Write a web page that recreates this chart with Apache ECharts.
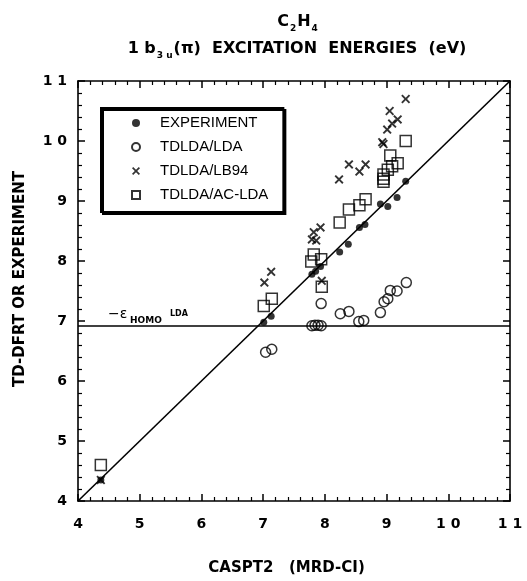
<!DOCTYPE html>
<html>
<head>
<meta charset="utf-8">
<script src="https://cdn.jsdelivr.net/npm/echarts@6/dist/echarts.min.js"></script>
<style>
  html, body { margin: 0; padding: 0; background: #fff; }
  #chart { width: 527px; height: 581px; }
</style>
</head>
<body>
<div id="chart"></div>
<script>
// C2H4 1b3u(pi) excitation energies: CASPT2 (MRD-CI) reference on x, other methods on y (eV)
const experiment = [
  [4.37, 4.35], [7.01, 6.98], [7.13, 7.08], [7.79, 7.78], [7.85, 7.83], [7.93, 7.91],
  [8.24, 8.15], [8.38, 8.28], [8.56, 8.56], [8.65, 8.61], [8.90, 8.95], [9.02, 8.91],
  [9.17, 9.06], [9.31, 9.33]
];
const tdldaLda = [
  [7.04, 6.48], [7.14, 6.53], [7.79, 6.92], [7.84, 6.93], [7.89, 6.93], [7.94, 6.92],
  [7.94, 7.29], [8.25, 7.12], [8.39, 7.16], [8.55, 6.99], [8.63, 7.01], [8.90, 7.14],
  [8.96, 7.32], [9.02, 7.37], [9.06, 7.51], [9.17, 7.50], [9.32, 7.64]
];
const tdldaLb94 = [
  [4.37, 4.35], [7.02, 7.64], [7.13, 7.82], [7.79, 8.36], [7.86, 8.34], [7.82, 8.48],
  [7.93, 8.56], [7.95, 7.67], [8.23, 9.36], [8.39, 9.61], [8.56, 9.49], [8.66, 9.61],
  [8.93, 9.98], [8.95, 9.95], [9.01, 10.19], [9.09, 10.29], [9.18, 10.36], [9.05, 10.50],
  [9.31, 10.70]
];
const tdldaAcLda = [
  [4.37, 4.60], [7.01, 7.25], [7.14, 7.37], [7.78, 7.99], [7.82, 8.11], [7.94, 8.03],
  [7.95, 7.57], [8.24, 8.64], [8.39, 8.86], [8.56, 8.93], [8.66, 9.03], [8.95, 9.32],
  [8.95, 9.37], [8.95, 9.44], [9.02, 9.52], [9.09, 9.58], [9.18, 9.63], [9.06, 9.76],
  [9.31, 10.00]
];
const seriesNames = ['EXPERIMENT', 'TDLDA/LDA', 'TDLDA/LB94', 'TDLDA/AC-LDA'];
const axisMin = 4;
const axisMax = 11;
const tickLabels = ['4', '5', '6', '7', '8', '9', '1 0', '1 1'];
const homoLda = 6.92;          // -eps_HOMO (LDA) reference level
const diagonal = [[4, 4], [11, 11]];

const FONT = 'DejaVu Sans';
const BLACK = '#000';
const crossPath = 'path://M0,1.5L1.5,0L5,3.5L8.5,0L10,1.5L6.5,5L10,8.5L8.5,10L5,6.5L1.5,10L0,8.5L3.5,5Z';
const hollow = { color: 'rgba(0,0,0,0)', borderColor: BLACK, borderWidth: 1.5 };

const chart = echarts.init(document.getElementById('chart'), null, { renderer: 'canvas' });

function baseAxis(pos, showLabel) {
  return {
    type: 'value', position: pos, min: axisMin, max: axisMax, interval: 1,
    axisLine: { show: true, onZero: false, lineStyle: { color: BLACK, width: 1.6 } },
    axisTick: { show: true, inside: true, length: 7, lineStyle: { color: BLACK, width: 1.5 } },
    minorTick: { show: true, splitNumber: 5, length: 4, lineStyle: { color: BLACK, width: 1.2 } },
    splitLine: { show: false },
    axisLabel: {
      show: showLabel, color: BLACK, fontFamily: FONT, fontWeight: 'bold', fontSize: 14,
      formatter: v => tickLabels[Math.round(v - axisMin)]
    }
  };
}

const nameStyle = { color: BLACK, fontFamily: FONT, fontWeight: 'bold', fontSize: 15 };

const xBottom = Object.assign(baseAxis('bottom', true), {
  name: 'CASPT2   (MRD-CI)', nameLocation: 'middle', nameGap: 60,
  nameTextStyle: Object.assign({ padding: [0, 15, 0, 0] }, nameStyle)
});
xBottom.axisLabel.margin = 16;
const yLeft = Object.assign(baseAxis('left', true), {
  name: 'TD-DFRT OR EXPERIMENT', nameLocation: 'middle', nameGap: 50,
  nameTextStyle: Object.assign({ padding: [0, 0, 0, 24] }, nameStyle)
});
yLeft.axisLabel.margin = 11;

const titleRich = {
  n: { fontFamily: FONT, fontWeight: 'bold', fontSize: 16, color: BLACK, lineHeight: 22, verticalAlign: 'middle' },
  s: { fontFamily: FONT, fontWeight: 'bold', fontSize: 9, color: BLACK, lineHeight: 10, verticalAlign: 'bottom', padding: [0, 1, 0, 1] }
};

const option = {
  animation: false,
  backgroundColor: '#fff',
  title: [
    {
      text: '{n|C}{s|2}{n|H}{s|4}', left: 293, top: 6, textAlign: 'center',
      textStyle: { rich: titleRich }
    },
    {
      text: '{n|1 b}{s|3 u}{n|(π)  EXCITATION  ENERGIES  (eV)}', left: 292, top: 33, textAlign: 'center',
      textStyle: { rich: titleRich }
    }
  ],
  legend: {
    orient: 'vertical', left: 101, top: 108,
    data: seriesNames,
    itemWidth: 8, itemHeight: 8, itemGap: 8,
    padding: [7, 15, 9, 30],
    backgroundColor: '#fff', borderColor: BLACK, borderWidth: 2, borderRadius: 0,
    shadowColor: BLACK, shadowOffsetX: 2, shadowOffsetY: 2, shadowBlur: 0,
    textStyle: { color: BLACK, fontFamily: 'Liberation Sans', fontSize: 15, lineHeight: 16, padding: [0, 0, 0, 15] },
    selectedMode: false
  },
  grid: { left: 78, right: 17, top: 81, bottom: 68 },
  xAxis: [xBottom, baseAxis('top', false)],
  yAxis: [yLeft, baseAxis('right', false)],
  series: [
    {
      name: 'y = x', type: 'line', data: diagonal, symbol: 'none', silent: true,
      lineStyle: { color: BLACK, width: 1.6 }, z: 1,
      markLine: {
        silent: true, symbol: 'none', label: { show: false },
        lineStyle: { color: BLACK, width: 1.5, type: 'solid' },
        data: [{ yAxis: homoLda }]
      }
    },
    {
      name: seriesNames[0], type: 'scatter', data: experiment, symbol: 'circle', symbolSize: 7,
      itemStyle: { color: BLACK }, z: 3
    },
    {
      name: seriesNames[1], type: 'scatter', data: tdldaLda, symbol: 'circle', symbolSize: 10,
      itemStyle: hollow, z: 3
    },
    {
      name: seriesNames[2], type: 'scatter', data: tdldaLb94, symbol: crossPath, symbolSize: 9,
      itemStyle: { color: BLACK }, z: 3
    },
    {
      name: seriesNames[3], type: 'scatter', data: tdldaAcLda, symbol: 'rect', symbolSize: 11,
      itemStyle: hollow, z: 3
    }
  ]
};

chart.setOption(option);

// label for the -eps_HOMO (LDA) level, anchored just above the line near the left axis
const anchor = chart.convertToPixel({ xAxisIndex: 0, yAxisIndex: 0 }, [axisMin, homoLda]);
chart.setOption({
  graphic: [
    {
      type: 'text', x: anchor[0] + 30, y: anchor[1] - 18,
      style: { text: '−ε', fontFamily: FONT, fontSize: 14, fill: BLACK }
    },
    {
      type: 'text', x: anchor[0] + 52, y: anchor[1] - 10,
      style: { text: 'HOMO', fontFamily: FONT, fontWeight: 'bold', fontSize: 9, fill: BLACK }
    },
    {
      type: 'text', x: anchor[0] + 92, y: anchor[1] - 16,
      style: { text: 'LDA', fontFamily: FONT, fontWeight: 'bold', fontSize: 8, fill: BLACK }
    }
  ]
});
</script>
</body>
</html>
